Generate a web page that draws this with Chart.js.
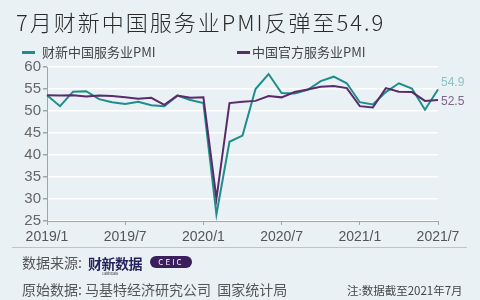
<!DOCTYPE html>
<html>
<head>
<meta charset="utf-8">
<script src="https://cdn.jsdelivr.net/npm/chart.js@4"></script>
<style>
  html, body { margin: 0; padding: 0; }
  body {
    width: 480px; height: 300px; overflow: hidden; position: relative;
    background: #eaf1f5;
    font-family: "Noto Sans CJK SC", "Noto Sans", sans-serif;
    color: #333;
  }
  #chartBox { position: absolute; left: 0; top: 0; width: 480px; height: 300px; }
  .title { position: absolute; left: 16px; top: 5px; font-size: 22px; color: #2a2a2a; letter-spacing: 2px; white-space: nowrap; font-weight: 300; }
  .legend { position: absolute; top: 42px; font-size: 13px; color: #444; white-space: nowrap; }
  .legend i { display: inline-block; width: 13px; height: 3px; vertical-align: middle; position: relative; top: -1px; }
  .sep { position: absolute; left: 12px; top: 247px; width: 455px; height: 1px; background: #b9c6ce; }
  .foot { position: absolute; font-size: 14px; color: #555; white-space: nowrap; }
  .logo1 { position: absolute; left: 88px; top: 253px; font-size: 14px; font-weight: bold; color: #23245e; letter-spacing: -0.5px; }
  .logo1 small { position: absolute; left: 14px; top: 17px; font-size: 4px; font-weight: normal; color: #555; }
  .logo2 { position: absolute; left: 150px; top: 256px; width: 42px; height: 12px; border-radius: 6px; background: #3b1f5c; color: #fff; font-size: 8px; line-height: 12px; text-align: center; letter-spacing: 2px; }
  .endLabel { position: absolute; font-size: 12px; font-family: "Liberation Sans", sans-serif; }
</style>
</head>
<body>
<div id="chartBox"><canvas id="pmiChart" width="480" height="300"></canvas></div>

<div class="title">7月财新中国服务业PMI反弹至54.9</div>
<div class="legend" style="left:22px"><i style="background:#1f8d8a; margin-right:7px"></i>财新中国服务业PMI</div>
<div class="legend" style="left:237px"><i style="background:#5b2a6b; margin-right:2px"></i>中国官方服务业PMI</div>

<div class="sep"></div>
<div class="foot" style="left:22px; top:252px">数据来源:</div>
<div class="logo1">财新数据<small>Caixin Data</small></div>
<div class="logo2">CEIC</div>
<div class="foot" style="left:22px; top:279px">原始数据: 马基特经济研究公司&nbsp;&nbsp;国家统计局</div>
<div class="foot" style="left:347px; top:282px; font-size:11.5px; color:#444">注:数据截至2021年7月</div>

<div class="endLabel" id="caixinLabel" style="color:#8cc3c3"></div>
<div class="endLabel" id="officialLabel" style="color:#7a6488"></div>

<script>
// ======================================
// Data
// ======================================

const months = [
    "2019/1", "2019/2", "2019/3", "2019/4", "2019/5", "2019/6",
    "2019/7", "2019/8", "2019/9", "2019/10", "2019/11", "2019/12",
    "2020/1", "2020/2", "2020/3", "2020/4", "2020/5", "2020/6",
    "2020/7", "2020/8", "2020/9", "2020/10", "2020/11", "2020/12",
    "2021/1", "2021/2", "2021/3", "2021/4", "2021/5", "2021/6",
    "2021/7"
];

const caixinPMI = [
    53.6, 51.1, 54.4, 54.5, 52.7, 52.0, 51.6, 52.1, 51.3, 51.1, 53.5, 52.5,
    51.8, 26.5, 43.0, 44.4, 55.0, 58.4, 54.1, 54.0, 54.8, 56.8, 57.8, 56.3,
    52.0, 51.5, 54.3, 56.3, 55.1, 50.3, 54.9
];

const officialPMI = [
    53.6, 53.5, 53.6, 53.3, 53.5, 53.4, 53.1, 52.8, 53.0, 51.4, 53.5, 53.0,
    53.1, 30.1, 51.8, 52.1, 52.3, 53.4, 53.1, 54.3, 54.9, 55.5, 55.7, 55.2,
    51.1, 50.8, 55.2, 54.4, 54.3, 52.3, 52.5
];

const shownMonths = ["2019/1", "2019/7", "2020/1", "2020/7", "2021/1", "2021/7"];

// ======================================
// End labels (HTML, placed from the scales)
// ======================================

const endLabels = {
    id: "endLabels",
    afterDraw(chart) {
        const x = chart.scales.x;
        const y = chart.scales.y;
        const last = months.length - 1;
        const px = x.getPixelForValue(last) + 3;

        const a = document.getElementById("caixinLabel");
        a.textContent = caixinPMI[last].toFixed(1);
        a.style.left = px + "px";
        a.style.top = (y.getPixelForValue(caixinPMI[last]) - 14) + "px";

        const b = document.getElementById("officialLabel");
        b.textContent = officialPMI[last].toFixed(1);
        b.style.left = px + "px";
        b.style.top = (y.getPixelForValue(officialPMI[last]) - 6) + "px";
    }
};

// ======================================
// Chart
// ======================================

new Chart(document.getElementById("pmiChart"), {
    type: "line",
    data: {
        labels: months,
        datasets: [
            {
                label: "中国官方服务业PMI",
                data: officialPMI,
                borderColor: "#5b2a6b",
                borderWidth: 2,
                pointRadius: 0,
                tension: 0
            },
            {
                label: "财新中国服务业PMI",
                data: caixinPMI,
                borderColor: "#1f8d8a",
                borderWidth: 2,
                pointRadius: 0,
                tension: 0
            }
        ]
    },
    options: {
        responsive: false,
        animation: false,
        layout: { padding: { left: 0, right: 42, top: 67, bottom: 0 } },
        plugins: {
            legend: { display: false },
            tooltip: { enabled: false }
        },
        scales: {
            x: {
                offset: false,
                afterFit: s => { s.height = 79; },
                grid: {
                    drawOnChartArea: false,
                    tickLength: 4,
                    tickColor: c => shownMonths.includes(months[c.index]) ? "#9aa7b0" : "rgba(0,0,0,0)"
                },
                border: { color: "#9aa7b0", width: 1 },
                ticks: {
                    autoSkip: false,
                    maxRotation: 0,
                    padding: 4,
                    color: "#555",
                    font: { family: "Liberation Sans", size: 14 },
                    callback: (v, i) => shownMonths.includes(months[i]) ? months[i] : ""
                }
            },
            y: {
                min: 25,
                max: 60,
                afterFit: s => { s.width = 47; },
                grid: {
                    color: "#ffffff",
                    lineWidth: 1.5,
                    tickColor: "#9aa7b0",
                    tickLength: 4
                },
                border: { color: "#9aa7b0", width: 1 },
                ticks: {
                    stepSize: 5,
                    padding: 2,
                    color: "#666",
                    font: { family: "Liberation Sans", size: 15 }
                }
            }
        }
    },
    plugins: [endLabels]
});
</script>
</body>
</html>
